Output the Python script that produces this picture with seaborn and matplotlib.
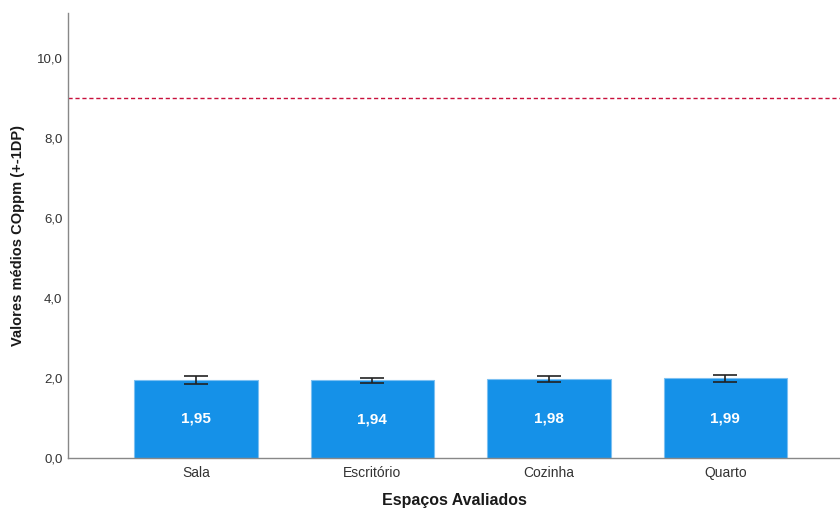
import matplotlib
matplotlib.use("Agg")
import matplotlib.pyplot as plt
import seaborn as sns
import pandas as pd

# Mean CO concentration (ppm) per room with one standard deviation
espacos = ["Sala", "Escritório", "Cozinha", "Quarto"]
medias = [1.95, 1.94, 1.98, 1.99]
desvios = [0.11, 0.07, 0.08, 0.08]
limite = 9.0
yticks = [0, 2, 4, 6, 8, 10]

df = pd.DataFrame({"espaco": espacos, "media": medias})

sns.set_theme(style="white")
plt.rcParams["font.family"] = ["Liberation Sans", "DejaVu Sans"]

fig = plt.figure(figsize=(8.4, 5.09), dpi=100)
ax = fig.add_axes([0.081, 0.1002, 0.919, 0.8743])

bar_color = "#1591E8"
sns.barplot(data=df, x="espaco", y="media", color=bar_color, width=0.70,
            edgecolor="#7CC0F2", linewidth=0.8, saturation=1, errorbar=None, ax=ax)

xs = list(range(len(espacos)))
ax.errorbar(xs, medias, yerr=desvios, fmt="none", ecolor="#222222",
            elinewidth=1.2, capsize=8.5, capthick=1.2, zorder=5)

for x, m in zip(xs, medias):
    ax.text(x, m / 2, f"{m:.2f}".replace(".", ","), ha="center", va="center",
            color="white", fontsize=11, fontweight="bold")

ax.axhline(limite, color="#C8103C", linestyle=(0, (3, 2)), linewidth=1.0)

ax.set_xlim(-0.725, 3.65)
ax.set_ylim(0, 11.125)
ax.set_yticks(yticks)
ax.set_yticklabels([f"{v:.1f}".replace(".", ",") for v in yticks])
ax.tick_params(axis="y", length=0, labelsize=9.5, colors="#333333", pad=4)
ax.tick_params(axis="x", length=0, labelsize=10, colors="#333333", pad=6)

ax.set_xlabel("Espaços Avaliados", fontsize=11.5, fontweight="bold", color="#1a1a1a", labelpad=9)
ax.set_ylabel("Valores médios COppm (+-1DP)", fontsize=10.5, fontweight="bold", color="#1a1a1a", labelpad=8)

for side in ["top", "right"]:
    ax.spines[side].set_visible(False)
for side in ["left", "bottom"]:
    ax.spines[side].set_color("#888888")
    ax.spines[side].set_linewidth(1.0)

fig.savefig("out.png", dpi=100)
